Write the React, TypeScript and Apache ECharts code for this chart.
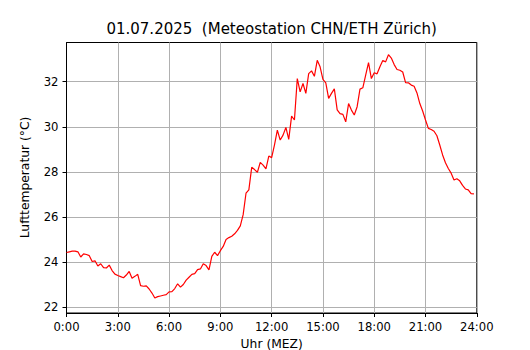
import React, { useEffect, useRef } from "react";
import * as echarts from "echarts";

const chartTitle = "01.07.2025  (Meteostation CHN/ETH Zürich)";
const xAxisTitle = "Uhr (MEZ)";
const yAxisTitle = "Lufttemperatur (°C)";
const stepMinutes = 10;
const xTicks = [0, 3, 6, 9, 12, 15, 18, 21, 24];
const yTicks = [22, 24, 26, 28, 30, 32];

// 10-minute air temperature values from 0:00 to 23:50
const temperature = [
  24.42, 24.45, 24.48, 24.48, 24.45, 24.22, 24.36, 24.33, 24.28, 24.02,
  24.05, 23.82, 23.92, 23.75, 23.73, 23.86, 23.62, 23.46, 23.40, 23.35,
  23.30, 23.42, 23.58, 23.28, 23.36, 23.45, 22.95, 22.92, 22.94, 22.80,
  22.62, 22.40, 22.46, 22.49, 22.52, 22.55, 22.67, 22.68, 22.82, 23.03,
  22.88, 23.00, 23.19, 23.32, 23.45, 23.48, 23.66, 23.69, 23.92, 23.84,
  23.65, 24.25, 24.43, 24.28, 24.50, 24.69, 25.00, 25.08, 25.14, 25.25,
  25.40, 25.60, 26.10, 27.05, 27.20, 28.20, 28.10, 27.98, 28.42, 28.30,
  28.13, 28.70, 28.63, 29.20, 29.85, 29.41, 29.63, 29.97, 29.44, 30.47,
  30.30, 32.14, 31.55, 31.92, 31.48, 32.36, 32.48, 32.24, 32.95, 32.66,
  32.10, 31.95, 31.26, 31.48, 31.68, 30.75, 30.58, 30.55, 30.22, 31.03,
  30.74, 30.52, 30.89, 31.67, 31.73, 32.29, 32.85, 32.14, 32.40, 32.35,
  32.66, 32.94, 32.88, 33.20, 33.05, 32.76, 32.54, 32.51, 32.43, 31.96,
  31.95, 31.85, 31.80, 31.50, 31.03, 30.70, 30.30, 29.93, 29.88, 29.80,
  29.60, 29.19, 28.75, 28.40, 28.15, 27.94, 27.64, 27.69, 27.60, 27.40,
  27.24, 27.20, 27.03, 27.02,
];

const FONT = "'DejaVu Sans', sans-serif";

export default function App() {
  const ref = useRef<HTMLDivElement>(null);

  useEffect(() => {
    if (!ref.current) return;
    const chart = echarts.init(ref.current, null, { renderer: "svg" });
    const data = temperature.map((t, i) => [(i * stepMinutes) / 60, t]);

    chart.setOption({
      animation: false,
      backgroundColor: "#ffffff",
      grid: {
        left: 66.5,
        right: 53.2,
        top: 42.5,
        bottom: 37,
        show: true,
        borderColor: "#000000",
        borderWidth: 1,
        backgroundColor: "transparent",
        outerBoundsMode: "none",
        containLabel: false,
      },
      graphic: [
        {
          type: "text",
          x: 271.7,
          y: 29,
          style: {
            text: chartTitle,
            align: "center",
            verticalAlign: "middle",
            font: `15px ${FONT}`,
            fill: "#000000",
          },
        },
        {
          type: "text",
          x: 271.7,
          y: 344,
          style: {
            text: xAxisTitle,
            align: "center",
            verticalAlign: "middle",
            font: `12.3px ${FONT}`,
            fill: "#000000",
          },
        },
        {
          type: "text",
          x: 25,
          y: 177.5,
          rotation: Math.PI / 2,
          style: {
            text: yAxisTitle,
            align: "center",
            verticalAlign: "middle",
            font: `12.3px ${FONT}`,
            fill: "#000000",
          },
        },
      ],
      xAxis: {
        type: "value",
        min: xTicks[0],
        max: xTicks[xTicks.length - 1],
        interval: 3,
        axisLine: { show: true, lineStyle: { color: "#000000", width: 1 } },
        axisTick: { show: true, inside: false, length: 4, lineStyle: { color: "#000000", width: 1 } },
        axisLabel: {
          show: true,
          margin: 8,
          color: "#000000",
          fontSize: 11.6,
          fontFamily: FONT,
          formatter: (v: number) => `${v}:00`,
        },
        splitLine: { show: true, lineStyle: { color: "#b0b0b0", width: 1 } },
      },
      yAxis: {
        type: "value",
        min: 21.734,
        max: 33.74,
        axisLine: { show: true, lineStyle: { color: "#000000", width: 1 } },
        axisTick: {
          show: true,
          inside: false,
          length: 4,
          customValues: yTicks,
          lineStyle: { color: "#000000", width: 1 },
        },
        axisLabel: {
          show: true,
          margin: 8,
          color: "#000000",
          fontSize: 11.6,
          fontFamily: FONT,
          customValues: yTicks,
          formatter: (v: number) => `${v}`,
        },
        splitLine: { show: true, lineStyle: { color: "#b0b0b0", width: 1 } },
      },
      series: [
        {
          type: "line",
          data,
          showSymbol: false,
          symbol: "none",
          lineStyle: { color: "#ff0000", width: 1.2 },
          itemStyle: { color: "#ff0000" },
        },
      ],
    });

    return () => chart.dispose();
  }, []);

  return (
    <div
      ref={ref}
      style={{ position: "fixed", left: 0, top: 0, width: 530, height: 350 }}
    />
  );
}
